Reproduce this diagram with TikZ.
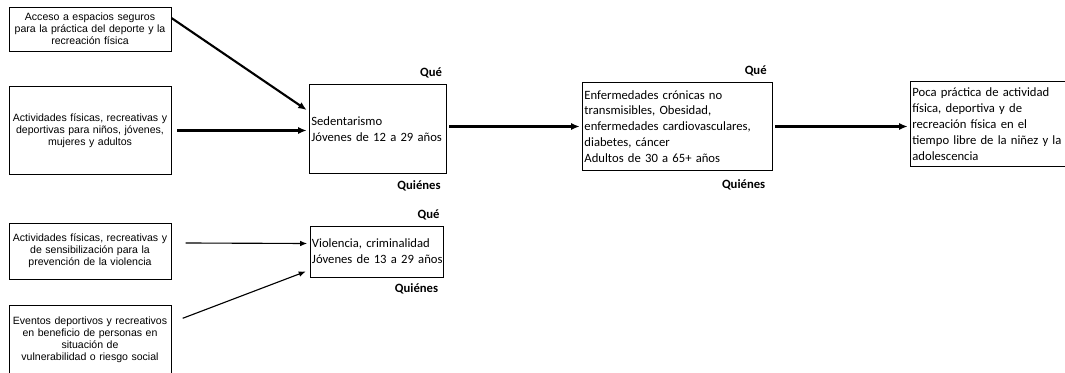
\documentclass[tikz,border=0pt]{standalone}
\usepackage{fontspec}
\setmainfont{Carlito}
\newfontfamily\arialfont{Liberation Sans}
\usetikzlibrary{arrows.meta,positioning,calc}

\begin{document}
\begin{tikzpicture}[x=0.025cm,y=-0.025cm,
   cause/.style={draw,line width=0.6pt,align=center,minimum width=4.05cm,text width=4.0cm,inner sep=0.5pt,
                 font=\arialfont\fontsize{7.5}{8.6}\selectfont},
   effect/.style={draw,line width=0.7pt,align=left,inner xsep=1pt,inner ysep=1pt,
                  font=\fontsize{9}{11.3}\selectfont},
   tag/.style={font=\fontsize{9}{10}\selectfont\bfseries,inner sep=1pt},
   flow/.style={-{Latex[length=6pt,width=5pt]},line width=1.5pt},
   link/.style={-{Latex[length=5pt,width=4pt]},line width=0.8pt}]
  \useasboundingbox (0,0) rectangle (1065,373);
  % causes
  \node[cause,minimum height=1.1cm] (acceso) at (90,29)
        {Acceso a espacios seguros\\para la práctica del deporte y la\\recreación física};
  \node[cause,minimum height=2.2cm] (activ) at (90,130.5)
        {Actividades físicas, recreativas y\\deportivas para niños, jóvenes,\\mujeres y adultos};
  \node[cause,minimum height=1.4cm] (sensib) at (90,251)
        {Actividades físicas, recreativas y\\de sensibilización para la\\prevención de la violencia};
  \node[cause,minimum height=1.68cm] (eventos) at (90,339.5)
        {Eventos deportivos y recreativos\\en beneficio de personas en\\situación de\\vulnerabilidad o riesgo social};
  % problems and effects
  \node[effect,minimum width=3.4cm,text width=3.33cm,minimum height=2.2cm] (sedent) at (378,129)
        {Sedentarismo\\\mbox{Jóvenes de 12 a 29 años}};
  \node[effect,minimum width=4.725cm,text width=4.65cm,minimum height=2.175cm] (enferm) at (677.5,126.5)
        {Enfermedades crónicas no\\transmisibles, Obesidad,\\enfermedades cardiovasculares,\\diabetes, cáncer\\Adultos de 30 a 65+ años};
  \node[effect,minimum width=3.85cm,text width=3.78cm,minimum height=2.1cm] (poca) at (988,124)
        {Poca práctica de actividad\\física, deportiva y de\\recreación física en el\\\mbox{tiempo libre de la niñez y la}\\adolescencia};
  \node[effect,minimum width=3.325cm,text width=3.25cm,minimum height=1.275cm] (violen) at (377,251.5)
        {Violencia, criminalidad\\\mbox{Jóvenes de 13 a 29 años}};
  % labels
  \node[tag,anchor=south east] (que1) at ([xshift=-2pt,yshift=3pt]sedent.north east) {Qué};
  \node[tag,anchor=north east] (quien1) at ([xshift=-3pt,yshift=-4pt]sedent.south east) {Quiénes};
  \node[tag,anchor=south east] (que2) at ([xshift=-3pt,yshift=3pt]enferm.north east) {Qué};
  \node[tag,anchor=north east] (quien2) at ([xshift=-4pt,yshift=-5pt]enferm.south east) {Quiénes};
  \node[tag,anchor=south east] (que3) at ([xshift=-2pt,yshift=3pt]violen.north east) {Qué};
  \node[tag,anchor=north east] (quien3) at ([xshift=-3pt,yshift=-3pt]violen.south east) {Quiénes};
  % arrows
  \draw[flow] ([yshift=0.275cm]acceso.east) -- ([xshift=-2pt,yshift=0.475cm]sedent.west);
  \draw[flow] ([xshift=4pt]activ.east) -- ([xshift=-2pt]sedent.west |- activ.east);
  \draw[flow] ([xshift=2pt]sedent.east |- enferm.west) -- ([xshift=-2pt]enferm.west);
  \draw[flow] ([xshift=2pt]enferm.east) -- ([xshift=-2pt]poca.west |- enferm.east);
  \draw[link] ([xshift=10pt,yshift=0.2cm]sensib.east) -- ([xshift=-2pt,yshift=0.2cm]violen.west);
  \draw[link] ([xshift=8pt,yshift=0.53cm]eventos.east) -- ([xshift=-3pt,yshift=-0.5cm]violen.west);
\end{tikzpicture}
\end{document}
